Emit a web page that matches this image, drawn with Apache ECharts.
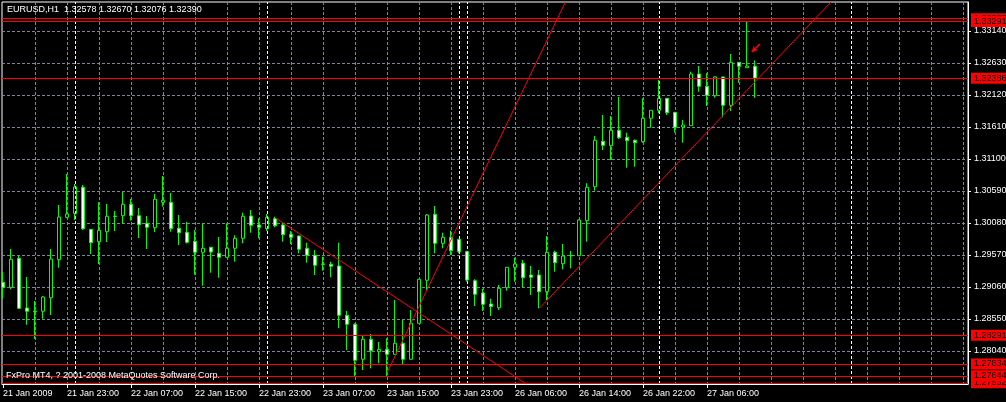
<!DOCTYPE html>
<html><head><meta charset="utf-8">
<script src="https://cdn.jsdelivr.net/npm/echarts@6/dist/echarts.min.js"></script>
<style>html,body{margin:0;padding:0;background:#000;}#c{width:1006px;height:402px;}</style>
</head><body><div id="c"></div>
<script>
const symbolName = 'EURUSD,H1';
const copyright = 'FxPro MT4, ? 2001-2008 MetaQuotes Software Corp.';

const opens = [1.29135,1.29055,1.29517,1.28725,1.28677,1.28673,1.28889,1.29495,1.30171,1.30231,
1.30649,1.29979,1.29782,1.29941,1.30183,1.30196,1.30378,1.30196,1.30075,1.30005,
1.30410,1.30410,1.29995,1.29932,1.29788,1.29613,1.29693,1.29597,1.29533,1.29677,
1.29836,1.30191,1.30048,1.29989,1.30148,1.30048,1.29900,1.29873,1.29677,1.29565,
1.29426,1.29422,1.29395,1.28609,1.28465,1.27908,1.28226,1.28029,1.28067,1.27987,
1.28163,1.27908,1.28481,1.29167,1.30219,1.29756,1.29852,1.29820,1.29623,1.29160,
1.28964,1.28789,1.28730,1.29049,1.29374,1.29438,1.29251,1.29251,1.28985,1.29613,
1.29431,1.29557,1.29559,1.30117,1.30658,1.31382,1.31312,1.31557,1.31446,1.31398,
1.31376,1.31749,1.31876,1.32067,1.31844,1.31610,1.31631,1.32455,1.32258,1.32109,
1.32407,1.31956,1.32641,1.32555,1.32578];
const closes = [1.29055,1.29501,1.28720,1.28673,1.28669,1.28901,1.29506,1.30176,1.30223,1.30654,
1.29989,1.29766,1.29963,1.30187,1.30188,1.30378,1.30196,1.30053,1.30011,1.30458,
1.30442,1.29989,1.29925,1.29772,1.29613,1.29677,1.29618,1.29533,1.29677,1.29836,
1.30187,1.30043,1.30011,1.30171,1.30037,1.29893,1.29852,1.29661,1.29565,1.29406,
1.29422,1.29390,1.28609,1.28465,1.27892,1.28226,1.28045,1.28067,1.27987,1.28163,
1.27908,1.28481,1.29183,1.30207,1.29756,1.29852,1.29638,1.29623,1.29171,1.28944,
1.28784,1.28749,1.29039,1.29374,1.29426,1.29208,1.29215,1.28985,1.29613,1.29447,
1.29554,1.29562,1.30128,1.30649,1.31398,1.31318,1.31557,1.31439,1.31392,1.31360,
1.31749,1.31876,1.32067,1.31838,1.31605,1.31642,1.32455,1.32258,1.32115,1.32407,
1.31956,1.32641,1.32577,1.32582,1.32390];
const lows = [1.28877,1.29023,1.28714,1.28459,1.28231,1.28555,1.28614,1.29368,1.30155,1.30128,
1.29968,1.29586,1.29426,1.29777,1.29952,1.30069,1.30117,1.29841,1.29666,1.29936,
1.30340,1.29941,1.29729,1.29753,1.29256,1.29081,1.29288,1.29208,1.29530,1.29463,
1.29756,1.29925,1.29836,1.29952,1.30011,1.29782,1.29745,1.29597,1.29447,1.29251,
1.29320,1.29215,1.28402,1.28056,1.27642,1.27737,1.27764,1.27844,1.27642,1.27980,
1.27833,1.27900,1.28478,1.29012,1.29597,1.29677,1.29570,1.29597,1.29144,1.28757,
1.28677,1.28598,1.28693,1.29001,1.29144,1.29055,1.28932,1.28720,1.28853,1.29304,
1.29342,1.29358,1.29554,1.29782,1.30595,1.31243,1.31084,1.31419,1.30961,1.30977,
1.31360,1.31599,1.31828,1.31801,1.31519,1.31360,1.31626,1.32172,1.31945,1.32077,
1.31764,1.31865,1.32316,1.32550,1.32076];
const highs = [1.29299,1.29666,1.29554,1.29219,1.28837,1.28917,1.29666,1.30367,1.30861,1.30701,
1.30686,1.29984,1.30410,1.30383,1.30271,1.30574,1.30462,1.30319,1.30191,1.30542,
1.30829,1.30558,1.30207,1.30096,1.29968,1.30075,1.29697,1.29857,1.30075,1.29884,
1.30244,1.30287,1.30155,1.30223,1.30180,1.30085,1.29952,1.29881,1.29766,1.29650,
1.29543,1.29463,1.29766,1.28677,1.28481,1.28295,1.28311,1.28183,1.28242,1.28853,
1.28534,1.28693,1.29187,1.30223,1.30351,1.29925,1.29957,1.29825,1.29638,1.29183,
1.29031,1.28873,1.29092,1.29379,1.29527,1.29490,1.29395,1.29331,1.29873,1.29638,
1.29745,1.29634,1.30136,1.30713,1.31466,1.31801,1.31785,1.32088,1.31519,1.31411,
1.32067,1.31881,1.32359,1.32072,1.31849,1.31721,1.32491,1.32582,1.32466,1.32418,
1.32412,1.32773,1.32646,1.33285,1.32670];

const tickBars = [0,8,16,24,32,40,48,56,64,72,80,88];
const tickLabels = ['21 Jan 2009','21 Jan 23:00','22 Jan 07:00','22 Jan 15:00','22 Jan 23:00','23 Jan 07:00',
  '23 Jan 15:00','23 Jan 23:00','26 Jan 06:00','26 Jan 14:00','26 Jan 22:00','27 Jan 06:00'];
const gridBars = [4,8,12,16,20,24,28,32,36,40,44,48,52,56,60,64,68,72,76,80,84,88,92,96,100,104,108,112,116,120];
const separatorBars = [9,33,57,58,82,106];
const priceTicks = [1.28040,1.28550,1.29060,1.29570,1.30080,1.30590,1.31100,1.31610,1.32120,1.32630,1.33140];
const levelPrices = [1.33337,1.33291,1.32386,1.28291,1.27834,1.27532,1.27644];
const trendLines = [
  [[34.125,1.30155],[65.4,1.27514]],
  [[48.0,1.27690],[70.3,1.33602]],
  [[67.04,1.28720],[103.5,1.33602]]
];
const arrowMark = [[94.6,1.32933],[93.6,1.32805]];

const xMin = -0.125, xMax = 120.625;
const yMin = 1.27514, yMax = 1.33602;
const FONT = 'Liberation Sans';

const candles = opens.map((o, i) => [i, o, closes[i], lows[i], highs[i]]);
const last = opens.length - 1;
const header = symbolName + '  ' + [opens[last], highs[last], lows[last], closes[last]].map(v => v.toFixed(5)).join(' ');

const markData = [];
separatorBars.forEach(b => markData.push({
  xAxis: b, lineStyle: {color: '#ffffff', type: [3, 2], width: 1}, label: {show: false}
}));
levelPrices.forEach(p => markData.push({
  yAxis: p, lineStyle: {color: '#ff0000', type: 'solid', width: 1},
  label: {show: true, position: 'end', distance: 3, formatter: () => p.toFixed(5),
    color: '#000', backgroundColor: '#ff0000', fontSize: 9, fontFamily: FONT,
    padding: [1, 2, 0, 3], lineHeight: 10}
}));
trendLines.forEach(t => markData.push([
  {coord: t[0], lineStyle: {color: '#ff0000', width: 1, type: 'solid'}, label: {show: false}},
  {coord: t[1]}
]));
markData.push([
  {coord: arrowMark[0], symbol: 'none', lineStyle: {color: '#ff0000', width: 1.5, type: 'solid'}, label: {show: false}},
  {coord: arrowMark[1], symbol: 'arrow', symbolSize: [5, 6]}
]);

const chart = echarts.init(document.getElementById('c'), null, {renderer: 'canvas'});
chart.setOption({
  backgroundColor: '#000',
  animation: false,
  grid: {left: 2, top: 2, width: 966, height: 382, show: true, borderColor: '#ffffff', borderWidth: 1,
    backgroundColor: '#000', containLabel: false, outerBoundsMode: 'none'},
  xAxis: [
    {type: 'value', min: xMin, max: xMax, position: 'bottom',
     axisLine: {show: true, onZero: false, lineStyle: {color: '#ffffff'}},
     axisTick: {show: false, customValues: gridBars},
     axisLabel: {show: false},
     splitLine: {show: true, lineStyle: {color: '#778899', type: [3, 2], width: 1}}},
    {type: 'value', min: xMin, max: xMax, position: 'bottom',
     axisLine: {show: false, onZero: false},
     axisTick: {show: true, customValues: tickBars, length: 4, lineStyle: {color: '#ffffff'}},
     axisLabel: {show: true, customValues: tickBars, formatter: v => tickLabels[tickBars.indexOf(v)],
       color: '#ffffff', fontSize: 9, fontFamily: FONT, align: 'left', margin: 5},
     splitLine: {show: false}}
  ],
  yAxis: {type: 'value', position: 'right', min: yMin, max: yMax,
    axisLine: {show: true, onZero: false, lineStyle: {color: '#ffffff'}},
    axisTick: {show: true, customValues: priceTicks, length: 3, lineStyle: {color: '#ffffff'}},
    axisLabel: {show: true, customValues: priceTicks, formatter: v => v.toFixed(5),
      color: '#ffffff', fontSize: 9, fontFamily: FONT, margin: 6},
    splitLine: {show: true, lineStyle: {color: '#778899', type: [3, 2], width: 1}}},
  series: [{
    type: 'candlestick', xAxisIndex: 0, yAxisIndex: 0,
    data: candles, barWidth: 4,
    itemStyle: {color: '#000000', color0: '#ffffff', borderColor: '#00ff00', borderColor0: '#00ff00', borderWidth: 1},
    markLine: {silent: true, animation: false, precision: 5, symbol: ['none', 'none'], label: {show: false},
      emphasis: {disabled: true}, data: markData}
  }],
  graphic: [
    {type: 'text', left: 7, top: 5, z: 100, style: {text: header, fill: '#ffffff', font: '9px "' + FONT + '"'}},
    {type: 'text', left: 6, top: 371, z: 100, style: {text: copyright, fill: '#ffffff', font: '9px "' + FONT + '"'}}
  ]
});
</script></body></html>
